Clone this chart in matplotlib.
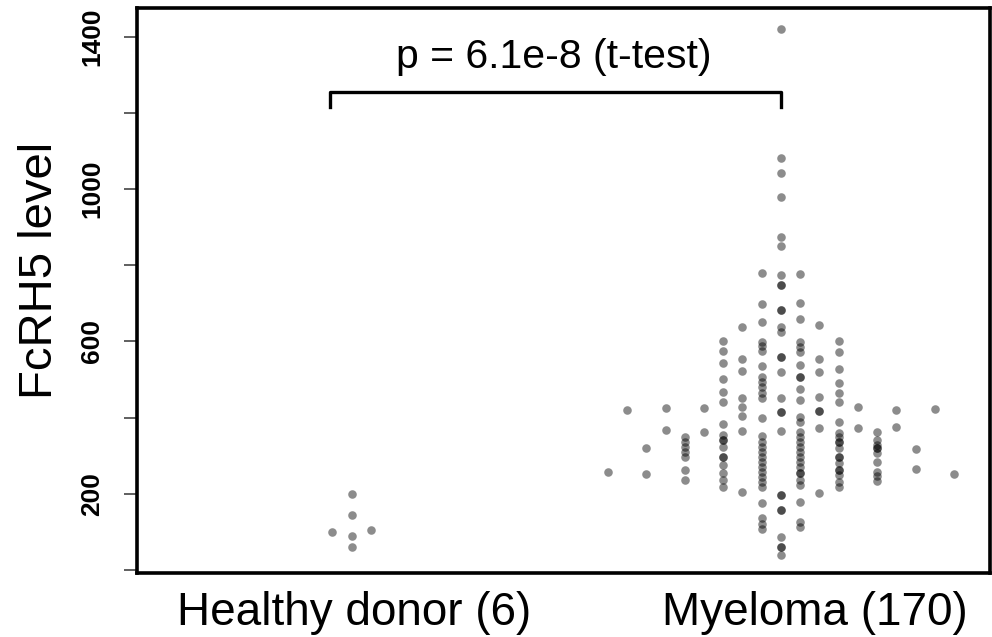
import matplotlib
matplotlib.use("Agg")
import matplotlib.pyplot as plt

plt.rcParams['font.family'] = ['Liberation Sans', 'DejaVu Sans']

group_labels = ["Healthy donor (6)", "Myeloma (170)"]
y_label = "FcRH5 level"
p_label = "p = 6.1e-8 (t-test)"
tick_values = [0, 200, 400, 600, 800, 1000, 1200, 1400]
tick_labels = ["", "200", "", "600", "", "1000", "", "1400"]

# FcRH5 values, grouped by beeswarm column (left to right)
healthy_cols = [
    [100],
    [200, 144, 90, 60],
    [105],
]
myeloma_cols = [
    [258],
    [420],
    [319, 253],
    [426, 367],
    [350, 337, 324, 310, 296, 262, 236],
    [424, 363],
    [602, 575, 543, 501, 466, 442, 382, 354, 341, 341, 324, 297, 297, 276, 254, 236, 219],
    [639, 553, 522, 451, 427, 404, 365, 204],
    [780, 698, 652, 599, 588, 576, 535, 507, 494, 480, 465, 451, 398, 352, 337, 324,
     310, 297, 284, 271, 258, 245, 232, 219, 177, 136, 121, 108],
    [1419, 1081, 1041, 978, 873, 849, 774, 748, 748, 682, 682, 639, 625, 560, 560, 520,
     451, 415, 415, 365, 197, 197, 157, 157, 86, 61, 61, 39],
    [778, 702, 658, 599, 586, 573, 538, 507, 507, 474, 446, 402, 389, 363, 350, 337,
     324, 310, 297, 284, 271, 254, 254, 236, 223, 179, 127, 114],
    [643, 553, 520, 455, 418, 418, 373, 203],
    [602, 573, 528, 490, 465, 442, 389, 359, 350, 337, 337, 319, 297, 297, 280, 262,
     262, 249, 232, 217],
    [427, 373],
    [363, 341, 328, 319, 319, 306, 284, 258, 247, 234],
    [420, 376],
    [317, 264],
    [423],
    [253],
]

fig = plt.figure(figsize=(9.92, 6.37), dpi=100)
ax = fig.add_axes([137 / 992, 64 / 637, 853 / 992, 565 / 637])

col_step = 0.0448
for center, cols in [(1, healthy_cols), (2, myeloma_cols)]:
    mid = (len(cols) - 1) / 2
    for i, vals in enumerate(cols):
        ax.scatter([center + (i - mid) * col_step] * len(vals), vals,
                   s=38, color="black", alpha=0.45, linewidths=0)

ax.set_xlim(0.5, 2.487)
ax.set_ylim(-8, 1475)
ax.set_xticks([])
ax.set_yticks(tick_values)
ax.set_yticklabels(tick_labels, rotation=90, va="center", fontsize=19,
                   fontweight="bold")
ax.tick_params(axis="y", length=9.5, width=1.2, pad=14, color="#444444")
for sp in ax.spines.values():
    sp.set_linewidth(2.6)

# significance bracket
ax.plot([0.95, 0.95, 2.0, 2.0], [1215, 1255, 1255, 1215], color="black",
        lw=2.4, clip_on=False)
ax.text(1.47, 1318, p_label, ha="center", va="baseline", fontsize=29.5)

fig.text(40 / 992, 1 - 270 / 637, y_label, rotation=90, ha="center",
         va="center", fontsize=34)
fig.text(354 / 992, 1 - 625 / 637, group_labels[0], ha="center",
         va="baseline", fontsize=33)
fig.text(815 / 992, 1 - 625 / 637, group_labels[1], ha="center",
         va="baseline", fontsize=33)

fig.savefig("out.png", dpi=100)
